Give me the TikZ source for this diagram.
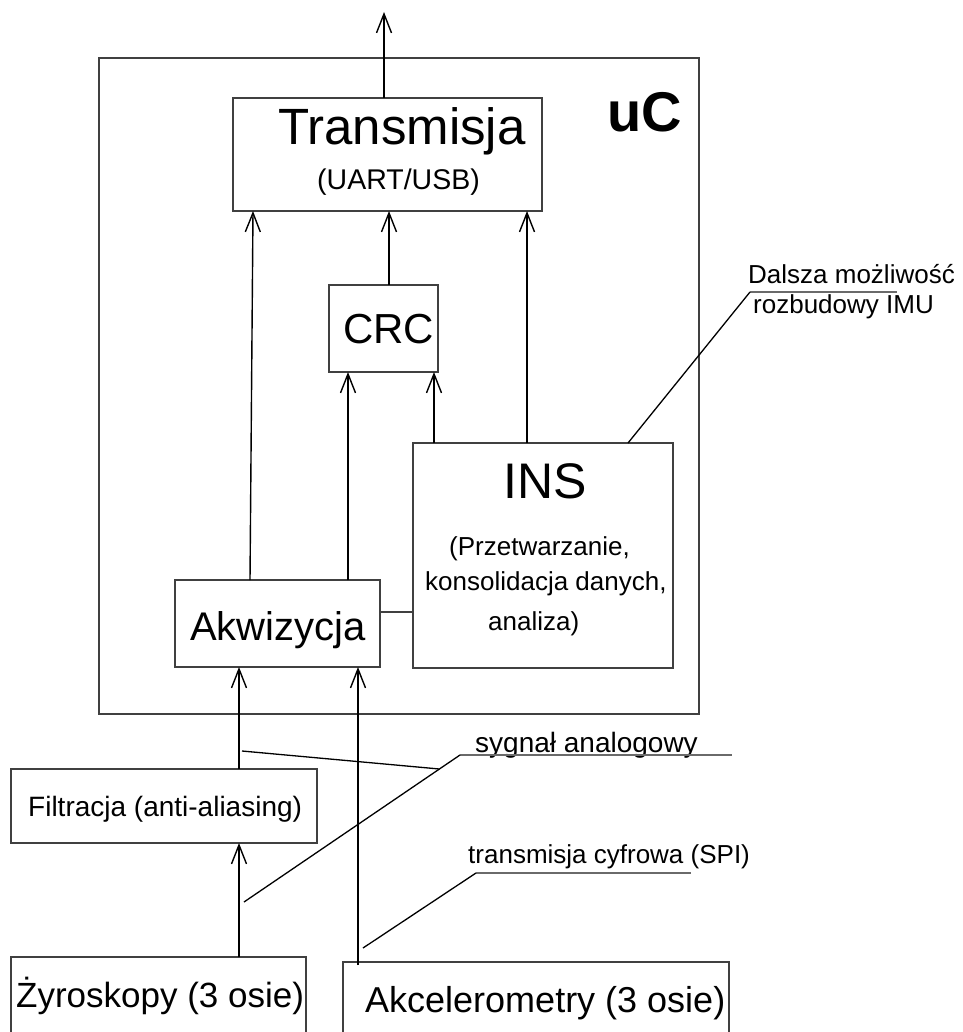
\documentclass[tikz,border=0pt]{standalone}
\usepackage{fontspec}
\setmainfont{Liberation Sans}
\usetikzlibrary{arrows.meta}
\definecolor{boxgray}{HTML}{404040}
\definecolor{ulgray}{HTML}{6A6A6A}
\newcommand\myfs[1]{\fontsize{#1}{#1}\selectfont}
\begin{document}
\begin{tikzpicture}[x=1pt,y=-1pt,
  box/.style={draw=boxgray,line width=1.8pt,inner sep=0pt,outer sep=0pt,anchor=north west},
  lbl/.style={inner sep=0pt,anchor=base west},
  arr/.style={-{Straight Barb[length=19pt,width=15pt]},line width=1.4pt},
  conn/.style={line width=1.4pt},
  lead/.style={line width=1.3pt},
  uline/.style={draw=ulgray,line width=2.2pt}]
\clip (0,0) rectangle (962,1032);
\fill[white] (0,0) rectangle (962,1032);

% boxes
\node[box,minimum width=600pt,minimum height=656pt] (uc) at (99,58) {};
\node[box,minimum width=309pt,minimum height=113pt] (trans) at (233,98) {};
\node[box,minimum width=109pt,minimum height=87pt] (crc) at (329,285) {};
\node[box,minimum width=260pt,minimum height=225pt] (ins) at (413,443) {};
\node[box,minimum width=205pt,minimum height=87pt] (akw) at (175,580) {};
\node[box,minimum width=306pt,minimum height=74pt] (filt) at (11,769) {};
\node[box,minimum width=295pt,minimum height=100pt] (zyro) at (11,957) {};
\node[box,minimum width=386pt,minimum height=100pt] (akc) at (343,962) {};

% texts
\node[lbl] (tT) at (278,145) {\myfs{51}Transmisja};
\node[lbl] (tU) at (317,190) {\myfs{28.5}(UART/USB)};
\node[lbl] (tuC) at (607,132) {\myfs{56}\bfseries uC};
\node[lbl] (tCRC) at (343,343) {\myfs{42}CRC};
\node[lbl] (tINS) at (503,498) {\myfs{50}INS};
\node[lbl] (tI1) at (449,555) {\myfs{26}(Przetwarzanie,};
\node[lbl] (tI2) at (425,590) {\myfs{26}konsolidacja danych,};
\node[lbl] (tI3) at (488,630) {\myfs{26}analiza)};
\node[lbl] (tA) at (190,640) {\myfs{40}Akwizycja};
\node[lbl] (tF) at (28,816) {\myfs{28}Filtracja (anti-aliasing)};
\node[lbl] (tZ) at (16,1007) {\myfs{35}Żyroskopy (3 osie)};
\node[lbl] (tAk) at (365,1012) {\myfs{36}Akcelerometry (3 osie)};
\node[lbl] (tS) at (475,752) {\myfs{28}sygnał analogowy};
\node[lbl] (tC) at (468,863) {\myfs{26}transmisja cyfrowa (SPI)};
\node[lbl] (tD1) at (748,283) {\myfs{26}Dalsza możliwość};
\node[lbl] (tD2) at (753,313) {\myfs{26}rozbudowy IMU};

% connectors
\coordinate (out) at (384,12);
\draw[arr] ([xshift=151pt]trans.north west) -- (out);
\draw[arr] ([xshift=60pt]crc.north west) -- ([xshift=156pt]trans.south west);
\draw[arr] ([xshift=75pt]akw.north west) -- ([xshift=20pt]trans.south west);
\draw[arr] ([xshift=114pt]ins.north west) -- ([xshift=294pt]trans.south west);
\draw[arr] ([xshift=173pt]akw.north west) -- ([xshift=19pt]crc.south west);
\draw[arr] ([xshift=21pt]ins.north west) -- ([xshift=105pt]crc.south west);
\draw[conn,draw=boxgray,line width=1.8pt] ([yshift=11.5pt]akw.east) -- ([yshift=-56.5pt]ins.west);
\draw[arr] ([xshift=228pt]filt.north west) -- ([xshift=64pt]akw.south west);
\draw[arr] ([xshift=15pt,yshift=-3pt]akc.north west) -- ([xshift=183pt]akw.south west);
\draw[arr] ([xshift=228pt]zyro.north west) -- ([xshift=228pt]filt.south west);

% callouts
\coordinate (sa1) at (460,755);
\coordinate (sa2) at (732,755);
\coordinate (sa3) at (244,902);
\coordinate (sa4) at (242,751);
\coordinate (sa5) at (439.4,769);
\draw[uline] (sa1) -- (sa2);
\draw[lead] (sa1) -- (sa3);
\draw[lead] (sa4) -- (sa5);

\coordinate (tc1) at (476,873);
\coordinate (tc2) at (691,873);
\coordinate (tc3) at (363,948);
\draw[uline] (tc1) -- (tc2);
\draw[lead] (tc1) -- (tc3);

\coordinate (d1) at (750,292);
\coordinate (d2) at (897,292);
\draw[uline] (d1) -- (d2);
\draw[lead] (d1) -- ([xshift=215pt]ins.north west);
\end{tikzpicture}
\end{document}
